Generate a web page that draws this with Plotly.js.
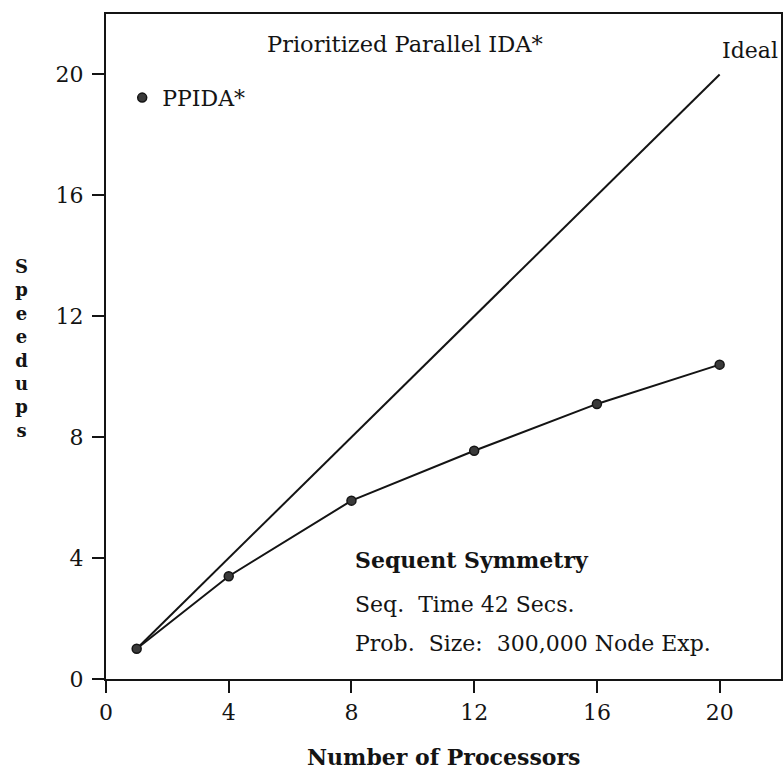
<!DOCTYPE html>
<html>
<head>
<meta charset="utf-8">
<script src="https://cdn.plot.ly/plotly-3.0.1.min.js"></script>
<style>html,body{margin:0;padding:0;background:#fff;}#chart{width:783px;height:772px;}</style>
</head>
<body>
<div id="chart"></div>
<script>
// Data
const processors = [1, 4, 8, 12, 16, 20];
const ppidaSpeedup = [1, 3.4, 5.9, 7.55, 9.1, 10.4];
const idealProcessors = [1, 20];
const idealSpeedup = [1, 20];
const xTicks = [0, 4, 8, 12, 16, 20];
const yTicks = [0, 4, 8, 12, 16, 20];
const seriesName = "PPIDA*";
const yTitleLetters = "Speedups".split("");

const FONT = "DejaVu Serif";
const INK = "#141414";

const traces = [
  {x: idealProcessors, y: idealSpeedup, mode: "lines", line: {color: INK, width: 2}, showlegend: false, hoverinfo: "skip"},
  {x: processors, y: ppidaSpeedup, mode: "lines", line: {color: INK, width: 2}, showlegend: false, hoverinfo: "skip"},
  {x: processors, y: ppidaSpeedup, mode: "markers", name: seriesName,
   marker: {color: "#3a3a3a", size: 9, line: {color: INK, width: 1.5}}, showlegend: true}
];

const annotations = [
  {text: "Prioritized Parallel IDA*", x: 9.76, y: 21.0, xref: "x", yref: "y", xanchor: "center", yanchor: "middle", showarrow: false, font: {family: FONT, size: 22.5, color: INK}},
  {text: "Ideal", x: 20.0, y: 20.8, xref: "x", yref: "y", xanchor: "left", yanchor: "middle", showarrow: false, font: {family: FONT, size: 22, color: INK}},
  {text: "<b>Sequent Symmetry</b>", x: 8.05, y: 3.95, xref: "x", yref: "y", xanchor: "left", yanchor: "middle", showarrow: false, font: {family: FONT, size: 22, color: INK}},
  {text: "Seq.  Time 42 Secs.", x: 8.05, y: 2.46, xref: "x", yref: "y", xanchor: "left", yanchor: "middle", showarrow: false, font: {family: FONT, size: 22, color: INK}},
  {text: "Prob.  Size:  300,000 Node Exp.", x: 8.05, y: 1.17, xref: "x", yref: "y", xanchor: "left", yanchor: "middle", showarrow: false, font: {family: FONT, size: 22, color: INK}},
  {text: "<b>Number of Processors</b>", x: 0.5, y: -0.118, xref: "paper", yref: "paper", xanchor: "center", yanchor: "middle", showarrow: false, font: {family: FONT, size: 22, color: INK}},
  // stacked vertical y-axis title
  {text: "<b>" + yTitleLetters.join("<br>") + "</b>", x: -0.125, y: 0.497, xref: "paper", yref: "paper",
   xanchor: "center", yanchor: "middle", align: "center", showarrow: false, font: {family: FONT, size: 18, color: INK}}
];

const layout = {
  width: 783, height: 772,
  margin: {l: 106, r: 2, t: 14, b: 93, pad: 0},
  paper_bgcolor: "#ffffff", plot_bgcolor: "#ffffff",
  font: {family: FONT, size: 22, color: INK},
  showlegend: true,
  legend: {x: 0.024, y: 0.874, xanchor: "left", yanchor: "middle", bgcolor: "rgba(0,0,0,0)", borderwidth: 0,
           font: {family: FONT, size: 22, color: INK}, itemwidth: 30},
  xaxis: {range: [0, 22], tickvals: xTicks, ticktext: xTicks.map(String), ticks: "outside", ticklen: 12, tickwidth: 2, tickcolor: INK,
          showline: true, linewidth: 2, linecolor: INK, mirror: true, showgrid: false, zeroline: false,
          tickfont: {family: FONT, size: 22, color: INK}, ticklabelstandoff: 1},
  yaxis: {range: [0, 22], tickvals: yTicks, ticktext: yTicks.map(String), ticks: "outside", ticklen: 12, tickwidth: 2, tickcolor: INK,
          showline: true, linewidth: 2, linecolor: INK, mirror: true, showgrid: false, zeroline: false,
          tickfont: {family: FONT, size: 22, color: INK}, ticklabelstandoff: 4},
  annotations: annotations
};

Plotly.newPlot("chart", traces, layout, {displayModeBar: false, staticPlot: true});
</script>
</body>
</html>
